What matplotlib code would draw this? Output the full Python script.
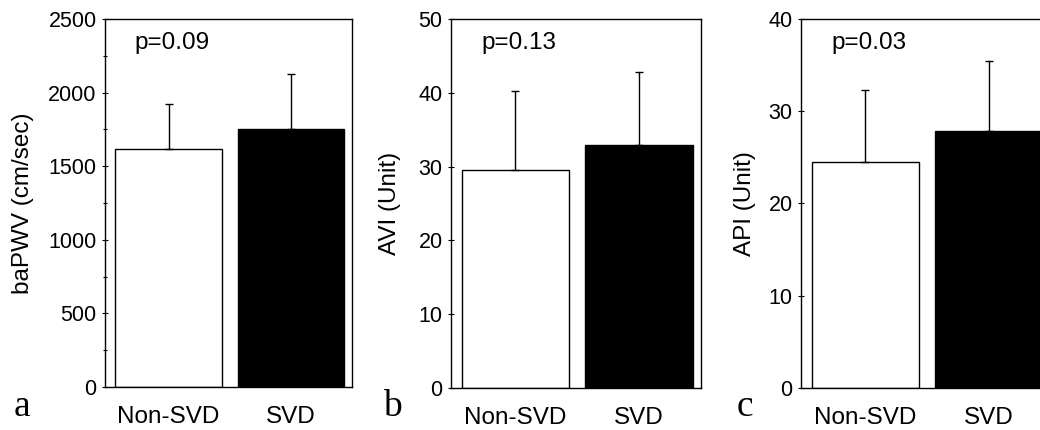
import numpy as np
import matplotlib
matplotlib.use("Agg")
import matplotlib.pyplot as plt
from matplotlib.ticker import MultipleLocator

plt.rcParams['font.family'] = ['Liberation Sans', 'DejaVu Sans']

groups = ['Non-SVD', 'SVD']
bar_colors = ['white', 'black']

pwv_mean = [1615, 1750]
pwv_sd = [310, 375]
avi_mean = [29.5, 32.9]
avi_sd = [10.8, 9.9]
api_mean = [24.5, 27.9]
api_sd = [7.8, 7.5]

panels = [
    # (means, sds, ylabel, ymax, major step, minor step, p text, letter)
    (pwv_mean, pwv_sd, 'baPWV (cm/sec)', 2500, 500, 250, 'p=0.09', 'a'),
    (avi_mean, avi_sd, 'AVI (Unit)', 50, 10, None, 'p=0.13', 'b'),
    (api_mean, api_sd, 'API (Unit)', 40, 10, None, 'p=0.03', 'c'),
]

W, H = 1040, 430
fig = plt.figure(figsize=(W / 100, H / 100), dpi=100)

# axes boxes in pixels: left, right, top, bottom
boxes = [(105, 352, 19, 387), (451, 701, 19, 388), (801, 1051, 19, 388)]
ylab_x = [23, 390, 745]
letter_x = [14, 383, 737]

for (means, sds, ylab, ymax, major, minor, ptxt, letter), box, yx, lx in zip(panels, boxes, ylab_x, letter_x):
    l, r, t, b = box
    ax = fig.add_axes([l / W, 1 - b / H, (r - l) / W, (b - t) / H])
    x = np.arange(len(groups))
    ax.bar(x, means, width=0.87, color=bar_colors, edgecolor='black', linewidth=1.0,
           yerr=[np.zeros(len(sds)), sds], capsize=3,
           error_kw=dict(ecolor='black', elinewidth=1.0, capthick=1.0))
    ax.set_xlim(-0.52, 1.5)
    ax.set_ylim(0, ymax)
    ax.yaxis.set_major_locator(MultipleLocator(major))
    if minor:
        ax.yaxis.set_minor_locator(MultipleLocator(minor))
        ax.tick_params(axis='y', which='minor', direction='inout', length=3, width=0.8)
    ax.tick_params(axis='y', which='major', direction='inout', length=4, width=0.8,
                   labelsize=15.5, pad=4)
    ax.set_xticks(x)
    ax.set_xticklabels(groups, fontsize=17.5)
    ax.tick_params(axis='x', length=0, pad=14)
    for s in ax.spines.values():
        s.set_linewidth(1.0)
    ax.text(0.12, 0.935, ptxt, transform=ax.transAxes, fontsize=17.5, va='center', ha='left')
    fig.text(yx / W, 1 - ((t + b) / 2) / H, ylab, rotation=90, fontsize=17.5,
             ha='center', va='center')
    fig.text(lx / W, 1 - 416 / H, letter, family='Liberation Serif', fontsize=27,
             ha='left', va='baseline')

fig.savefig('out.png', dpi=100)
